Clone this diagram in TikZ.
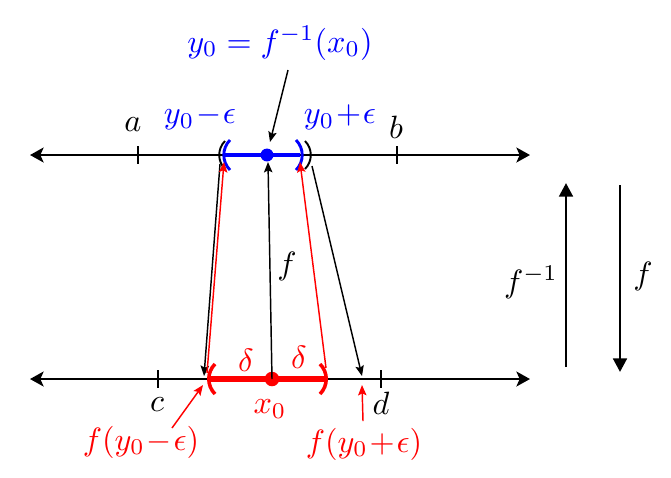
\documentclass[tikz,border=0pt]{standalone}
\usepackage{amsmath}
\usetikzlibrary{arrows.meta}

\begin{document}
\begin{tikzpicture}[x=0.31pt, y=-0.31pt,
	axis/.style={line width=0.9pt, {Stealth[length=4.2pt,width=4.6pt,inset=1pt]}-{Stealth[length=4.2pt,width=4.6pt,inset=1pt]}},
	maparrow/.style={line width=0.45pt, -{Stealth[length=3.2pt,width=2.6pt,inset=0.6pt]}},
	bigarrow/.style={line width=0.9pt, -{Stealth[length=4.2pt,width=4.2pt,inset=0pt]}},
	tickmark/.style={line width=0.9pt},
	paren/.style={line width=0.6pt},
	lbl/.style={inner sep=0pt}]
	\useasboundingbox (0,0) rectangle (671,477);
	\def\topY{155} % height of the y axis
	\def\botY{379} % height of the x axis
	
	% Draw the two axes
	\coordinate (topL) at (30,\topY);
	\coordinate (topR) at (530,\topY);
	\coordinate (botL) at (30,\botY);
	\coordinate (botR) at (530,\botY);
	\draw[axis] (topL) -- (topR);
	\draw[axis] (botL) -- (botR);
	
	% Ticks and their labels
	\foreach \x in {138, 397} {
		\draw[tickmark] (\x,\topY-9) -- (\x,\topY+9);
	}
	\foreach \x in {158, 381} {
		\draw[tickmark] (\x,\botY-9) -- (\x,\botY+9);
	}
	\node[lbl] (a) at (133,125) {$a$};
	\node[lbl] (b) at (396,127) {$b$};
	\node[lbl] (c) at (157,405) {$c$};
	\node[lbl] (d) at (381,403) {$d$};
	
	% Interval around y0
	\draw[paren] (225,141) to[bend right=45] (225,169);
	\draw[paren] (305,141) to[bend left=45] (305,169);
	\draw[paren, blue, line width=0.9pt] (230,140) to[bend right=45] (230,170);
	\draw[paren, blue, line width=0.9pt] (296,140) to[bend left=45] (296,170);
	\draw[blue, line width=1.2pt] (225,\topY) -- (300,\topY);
	\node[circle, fill=blue, inner sep=0pt, minimum size=4pt] (y0) at (267,\topY) {};
	\node[lbl, blue] (ymin) at (200,117) {$y_0\!-\!\epsilon$};
	\node[lbl, blue] (yplus) at (340,117) {$y_0\!+\!\epsilon$};
	\node[lbl, blue] (ytitle) at (280,43) {$y_0=f^{-1}(x_0)$};
	\coordinate (ytail) at (288,70);
	\coordinate (yhead) at (270,142);
	\draw[maparrow] (ytail) -- (yhead);
	
	% Interval around x0
	\draw[paren, red, line width=1.1pt] (215,364) to[bend right=45] (215,394);
	\draw[paren, red, line width=1.1pt] (320,364) to[bend left=45] (320,394);
	\draw[red, line width=1.8pt] (209,\botY) -- (326,\botY);
	\node[circle, fill=red, inner sep=0pt, minimum size=4.5pt] (x0) at (272,\botY) {};
	\node[lbl, red] (dl) at (246,360) {$\delta$};
	\node[lbl, red] (dr) at (299,357) {$\delta$};
	\node[lbl, red] (xlab) at (270,409) {$x_0$};
	\node[lbl, red] (fmin) at (141,442) {$f(y_0\!-\!\epsilon)$};
	\node[lbl, red] (fplus) at (364,444) {$f(y_0\!+\!\epsilon)$};
	\coordinate (fminT) at (172,428);
	\coordinate (fminH) at (203,385);
	\coordinate (fplusT) at (363,421);
	\coordinate (fplusH) at (362,385);
	\draw[maparrow, red] (fminT) -- (fminH);
	\draw[maparrow, red] (fplusT) -- (fplusH);
	
	% Maps between the axes
	\coordinate (p1) at (220,164);
	\coordinate (q1) at (204,376);
	\coordinate (p2) at (207,373);
	\coordinate (q2) at (224,162);
	\coordinate (q3) at (268,162);
	\coordinate (p4) at (326,368);
	\coordinate (q4) at (300,162);
	\coordinate (p5) at (312,166);
	\coordinate (q5) at (362,376);
	\draw[maparrow] (p1) -- (q1);
	\draw[maparrow, red] (p2) -- (q2);
	\draw[maparrow] (x0.center) -- (q3);
	\draw[maparrow, red] (p4) -- (q4);
	\draw[maparrow] (p5) -- (q5);
	\node[lbl] (fmid) at (287,266) {$f$};
	
	% Direction arrows on the right
	\coordinate (invB) at (566,367);
	\coordinate (invT) at (566,183);
	\coordinate (fwdT) at (620,185);
	\coordinate (fwdB) at (620,372);
	\draw[bigarrow] (invB) -- (invT);
	\draw[bigarrow] (fwdT) -- (fwdB);
	\node[lbl] (finv) at (531,282) {$f^{-1}$};
	\node[lbl] (fdown) at (643,276) {$f$};
\end{tikzpicture}
\end{document}
